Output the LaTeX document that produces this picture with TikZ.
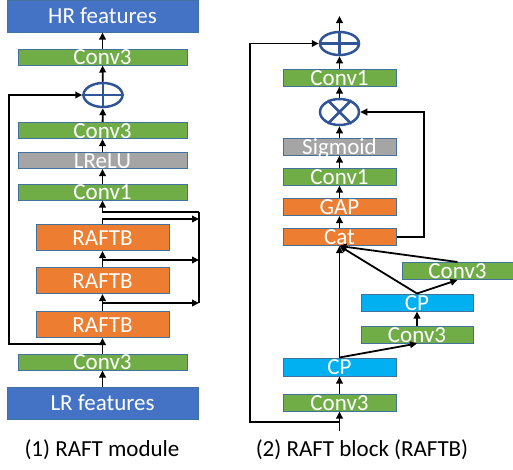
\documentclass[tikz,border=0pt]{standalone}
\usepackage{fontspec}
\setmainfont{Carlito}
\usepackage{tikz}
\usetikzlibrary{arrows.meta,positioning,shapes.geometric,calc}
\definecolor{rfblue}{HTML}{4472C4}
\definecolor{rfgreen}{HTML}{70AD47}
\definecolor{rforange}{HTML}{ED7D31}
\definecolor{rfgray}{HTML}{A5A5A5}
\definecolor{rfcyan}{HTML}{00B0F0}
\definecolor{rfedge}{HTML}{41719C}
\definecolor{rfop}{HTML}{2F5597}
\newcommand{\rffont}{\fontsize{23}{27}\selectfont}

\begin{document}
\begin{tikzpicture}[x=1pt, y=-1pt,
  blk/.style={draw=rfedge, line width=1pt, inner sep=0pt, text=white, font=\rffont, text height=15pt, text depth=0pt},
  feat/.style={blk, fill=rfblue, minimum width=191pt, minimum height=32pt},
  conv/.style={blk, fill=rfgreen, minimum width=169pt, minimum height=16pt},
  actb/.style={blk, fill=rfgray, minimum width=169pt, minimum height=16pt},
  raftb/.style={blk, fill=rforange, minimum width=133pt, minimum height=26pt},
  sblk/.style={blk, minimum width=113pt, minimum height=17pt},
  op/.style={ellipse, draw=rfop, line width=2.5pt, inner sep=0pt, minimum width=39pt, minimum height=24pt},
  wire/.style={line width=1.8pt},
  flow/.style={wire, -{Triangle[length=7pt,width=6.5pt]}}]
  \useasboundingbox (0,0) rectangle (513,469);

  % (1) RAFT module
  \node[feat] (hr) at (102.5,16) {HR features};
  \node[conv] (c3o) at (102.5,57) {Conv3};
  \node[op] (add) at (103,95) {};
  \draw[rfop, line width=2.5pt] (add.north) -- (add.south) (add.west) -- (add.east);
  \node[conv] (c3m) at (102.5,130.5) {Conv3};
  \node[actb] (lrelu) at (102.5,160.5) {LReLU};
  \node[conv] (c1) at (102.5,192) {Conv1};
  \node[raftb] (rb1) at (102.5,237.5) {RAFTB};
  \node[raftb] (rb2) at (102.5,280.5) {RAFTB};
  \node[raftb] (rb3) at (102.5,324.5) {RAFTB};
  \node[conv] (c3i) at (102.5,362) {Conv3};
  \node[feat] (lr) at (102.5,403) {LR features};
  \node[font=\rffont] (cap1) at (102,450) {(1) RAFT module};

  \coordinate (bus1) at (199,212);
  \coordinate (tap1) at (199,219);
  \coordinate (tap2) at (199,260);
  \coordinate (tap3) at (199,303);
  \coordinate (skip1) at (9,344);

  \draw[flow] (lr) -- (c3i);
  \draw[flow] (c3i) -- (rb3);
  \draw[flow] (c3i.north |- skip1) -- (skip1) |- (add);
  \draw[flow] (rb3) -- (rb2);
  \draw[flow] (rb3.north |- tap3) -- (tap3);
  \draw[flow] (rb2) -- (rb1);
  \draw[flow] (rb2.north |- tap2) -- (tap2);
  \draw[flow] (rb1.north) |- (tap1);
  \draw[wire] (bus1) -- (tap3);
  \draw[flow] (bus1) -| (c1);
  \draw[flow] (c1) -- (lrelu);
  \draw[flow] (lrelu) -- (c3m);
  \draw[flow] (c3m) -- (add);
  \draw[flow] (add) -- (c3o);
  \draw[flow] (c3o) -- (hr);

  % (2) RAFT block
  \node[op, minimum height=23pt] (add2) at (339.5,43.5) {};
  \draw[rfop, line width=2.5pt] (add2.north) -- (add2.south) (add2.west) -- (add2.east);
  \node[sblk, fill=rfgreen] (cv1a) at (339.5,77.5) {Conv1};
  \node[op, minimum height=26pt] (mul) at (339.5,112) {};
  \draw[rfop, line width=2.5pt] (mul.45) -- (mul.225) (mul.135) -- (mul.315);
  \node[sblk, fill=rfgray] (sig) at (339.5,146.5) {Sigmoid};
  \node[sblk, fill=rfgreen] (cv1b) at (339.5,176.5) {Conv1};
  \node[sblk, fill=rforange] (gap) at (339.5,207) {GAP};
  \node[sblk, fill=rforange] (cat) at (339.5,237) {Cat};
  \node[sblk, fill=rfgreen, minimum width=111pt] (cv3r) at (457.5,271) {Conv3};
  \node[sblk, fill=rfcyan, minimum width=112pt] (cpm) at (417,302.5) {CP};
  \node[sblk, fill=rfgreen, minimum width=112pt] (cv3m) at (417,334.5) {Conv3};
  \node[sblk, fill=rfcyan, minimum height=18pt] (cpl) at (339.5,367) {CP};
  \node[sblk, fill=rfgreen] (cv3l) at (339.5,402.5) {Conv3};
  \node[font=\rffont] (cap2) at (362,450) {(2) RAFT block (RAFTB)};

  \coordinate (in) at (339.5,431);
  \coordinate (out) at (339.5,16);
  \coordinate (skip2) at (250,422);
  \coordinate (catR) at (424,237);

  \draw[flow] (in) -- (cv3l);
  \draw[flow] (in |- skip2) -- (skip2) |- (add2);
  \draw[flow] (cv3l) -- (cpl);
  \draw[flow] (cpl) -- (cat);
  \draw[flow] (cpl.north) -- (cv3m.south);
  \draw[flow] (cv3m) -- (cpm);
  \draw[flow] (cpm.north) -- (cat.south);
  \draw[flow] (cpm.north) -- (cv3r.south);
  \draw[flow] (cv3r.north) -- (cat.south);
  \draw[flow] (cat) -- (gap);
  \draw[flow] (gap) -- (cv1b);
  \draw[flow] (cv1b) -- (sig);
  \draw[flow] (sig) -- (mul);
  \draw[flow] (cat.east) -- (catR) |- (mul);
  \draw[flow] (mul) -- (cv1a);
  \draw[flow] (cv1a) -- (add2);
  \draw[flow] (add2) -- (out);
\end{tikzpicture}
\end{document}
